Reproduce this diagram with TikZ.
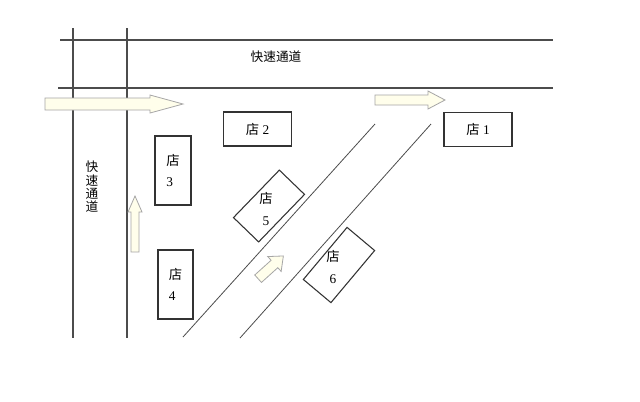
\documentclass[tikz,border=0pt]{standalone}
\usepackage{fontspec}
\newfontfamily\cjk{Noto Sans CJK SC}
\setmainfont{Liberation Serif}
\begin{document}
\begin{tikzpicture}[x=0.75pt,y=-0.75pt,
  road/.style={draw=black!70,line width=0.9pt},
  rail/.style={draw=black!70,line width=0.6pt},
  shop/.style={draw=black!80,line width=0.8pt,fill=white,minimum width=68pt*0.75,minimum height=34pt*0.75,font=\fontsize{10}{12}\selectfont},
  flow/.style={draw=black!35,fill=yellow!8,line width=0.6pt},
  lbl/.style={font=\cjk\fontsize{9.5}{12}\selectfont}]
\useasboundingbox (0,0) rectangle (640,401);
\fill[white] (0,0) rectangle (640,401);
% roads
\coordinate (h1a) at (60,40); \coordinate (h1b) at (553,40);
\coordinate (h2a) at (58,88); \coordinate (h2b) at (553,88);
\coordinate (v1a) at (73,28); \coordinate (v1b) at (73,338);
\coordinate (v2a) at (127,28); \coordinate (v2b) at (127,338);
\draw[road] (h1a) -- (h1b);
\draw[road] (h2a) -- (h2b);
\draw[road] (v1a) -- (v1b);
\draw[road] (v2a) -- (v2b);
\coordinate (d1a) at (183,337); \coordinate (d1b) at (375,124);
\coordinate (d2a) at (240,338); \coordinate (d2b) at (431,124);
\draw[rail] (d1a) -- (d1b);
\draw[rail] (d2a) -- (d2b);
\node[lbl] (topname) at (276,57) {快速通道};
\node[lbl,align=center,inner sep=0pt] (leftname) at (92,187) {快\\[-2pt]速\\[-2pt]通\\[-2pt]道};
% arrows
\draw[flow] (45,98) -- (150,98) -- (150,95) -- (183,104) -- (150,113) -- (150,110) -- (45,110) -- cycle;
\draw[flow] (375,95) -- (428,95) -- (428,91) -- (445,100) -- (428,109) -- (428,105) -- (375,105) -- cycle;
\draw[flow] (131,252) -- (131,212) -- (128,212) -- (135,196) -- (142,212) -- (139,212) -- (139,252) -- cycle;
\begin{scope}[shift={(270,268)},rotate=42]
\draw[flow] (-16,-5) -- (6,-5) -- (6,-10) -- (18,0) -- (6,10) -- (6,5) -- (-16,5) -- cycle;
\end{scope}
% shops
\node[shop] (s2) at (257.5,129) {{\cjk 店} 2};
\node[shop] (s1) at (478,129.5) {{\cjk 店} 1};
\node[shop,minimum width=36pt*0.75,minimum height=69pt*0.75,align=left] (s3) at (173,170.5) {{\cjk 店}\\[4pt]3};
\node[shop,minimum width=35pt*0.75,minimum height=69pt*0.75,align=left] (s4) at (175.5,284.5) {{\cjk 店}\\[4pt]4};
\node[shop,rotate=46,minimum width=66pt*0.75,minimum height=35pt*0.75] (s5) at (269,206) {};
\node[align=center,font=\fontsize{10}{12}\selectfont] (t5) at (266,209) {{\cjk 店}\\[4pt]5};
\node[shop,rotate=50,minimum width=68pt*0.75,minimum height=36pt*0.75] (s6) at (339,265) {};
\node[align=center,font=\fontsize{10}{12}\selectfont] (t6) at (333,267) {{\cjk 店}\\[4pt]6};
\end{tikzpicture}
\end{document}
